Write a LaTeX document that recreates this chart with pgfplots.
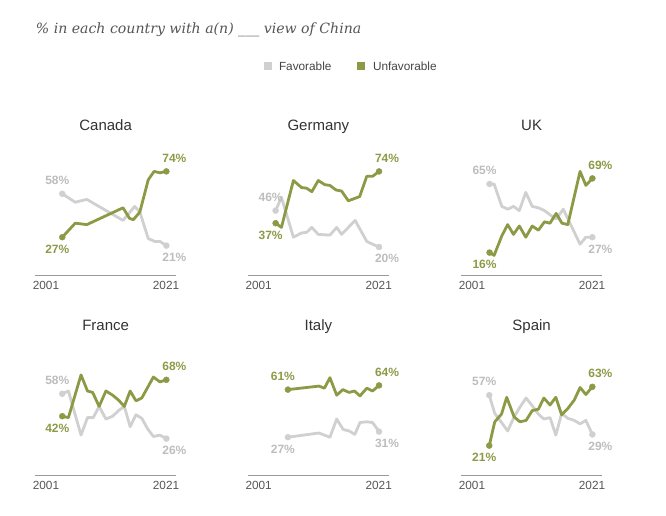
\documentclass[border=0pt]{standalone}
\usepackage{pgfplots}
\pgfplotsset{compat=1.18}
\usepackage{fontspec}
\setmainfont{Liberation Sans}
\newfontfamily\titlefont{DejaVu Serif}
\definecolor{unfav}{HTML}{8C9A46}
\definecolor{fav}{HTML}{D0D0D0}
\definecolor{favtext}{HTML}{BDBDBD}
\definecolor{axisgray}{HTML}{9A9A9A}
\definecolor{tickgray}{HTML}{555555}
\definecolor{paneltitle}{HTML}{333333}
\definecolor{maintitle}{HTML}{555555}
\definecolor{legtext}{HTML}{444444}
\pgfplotsset{
  panel/.style={
    scale only axis, width=141.3pt, height=140pt,
    xmin=2000.78, xmax=2022.64, ymin=0, ymax=100,
    axis x line=bottom, axis y line=none,
    x axis line style={-, draw=axisgray, line width=0.8pt},
    xtick={2002.48,2021.05}, xticklabels={2001,2021},
    ytick=\empty, major tick length=0pt, tick style={draw=none},
    xticklabel style={font=\fontsize{11.8}{12}\selectfont, text=tickgray, anchor=north, inner sep=0pt, yshift=-6.5pt},
    clip=false, anchor=south west,
    title style={font=\fontsize{15}{16}\selectfont, text=paneltitle, anchor=base, at={(0.5,1)}, yshift=-1pt, inner sep=0pt},
  },
  favline/.style={color=fav, line width=2.8pt, line join=round, line cap=round, mark=*, mark size=3pt, mark options={line width=0.4pt, fill=fav, draw=fav}},
  unfavline/.style={color=unfav, line width=2.8pt, line join=round, line cap=round, mark=*, mark size=3pt, mark options={line width=0.4pt, fill=unfav, draw=unfav}},
}
\tikzset{
  lab/.style={font=\fontsize{12}{13}\selectfont\bfseries, anchor=center, inner sep=0pt},
  up/.style={yshift=13.5pt}, dn/.style={yshift=-11.7pt},
  st/.style={xshift=-5pt}, en/.style={xshift=8pt},
  g/.style={text=favtext}, u/.style={text=unfav},
}
\begin{document}
\begin{tikzpicture}
\path[use as bounding box] (0,0) rectangle (666pt,-516pt);
% main title
\node[anchor=base west, inner sep=0pt, text=maintitle, font=\titlefont\itshape\fontsize{14.1}{15}\selectfont] at (35.7pt,-34pt) {\% in each country with a(n) \_\_\_ view of China};
% legend
\fill[fav] (264pt,-62.3pt) rectangle (272pt,-70.3pt);
\node[anchor=base west, inner sep=0pt, text=legtext, font=\fontsize{11.8}{12}\selectfont] at (278.8pt,-70.5pt) {Favorable};
\fill[unfav] (357.3pt,-62.3pt) rectangle (365.3pt,-70.3pt);
\node[anchor=base west, inner sep=0pt, text=legtext, font=\fontsize{11.8}{12}\selectfont] at (372.8pt,-70.5pt) {Unfavorable};

% Canada
\begin{axis}[panel, at={(35pt,-275pt)}, title={Canada}]
\addplot[favline, mark indices={1,10}] coordinates {(2005,58) (2007,52) (2008.8,54) (2014.4,39) (2016.2,49) (2017,45) (2018.3,26) (2019.3,24) (2020.1,24) (2021.1,21)};
\addplot[unfavline, mark indices={1,11}] coordinates {(2005,27) (2007,37) (2008.8,36) (2014.4,48) (2015.4,40.5) (2016,39.5) (2017,45) (2018.3,68) (2019.2,74) (2020.1,73) (2021.1,74)};
\node[lab,g,up,st] at (axis cs:2005,58) {58\%};
\node[lab,u,dn,st] at (axis cs:2005,27) {27\%};
\node[lab,u,up,en] at (axis cs:2021.1,74) {74\%};
\node[lab,g,dn,en] at (axis cs:2021.1,21) {21\%};
\end{axis}

% Germany
\begin{axis}[panel, at={(247.7pt,-275pt)}, title={Germany}]
\addplot[favline, mark indices={1,14}] coordinates {(2005.1,46) (2006,55.5) (2007.85,27) (2009.1,30) (2009.9,30.5) (2010.7,34) (2011.7,29) (2013.5,28.5) (2014.55,34) (2015.3,29) (2017.4,39) (2019.2,24) (2020.1,22) (2021.1,20)};
\addplot[unfavline, mark indices={1,16}] coordinates {(2005.1,37) (2006,34) (2007.85,67.5) (2009.1,62.5) (2009.9,62) (2010.7,59.5) (2011.7,67.5) (2012.7,64.5) (2013.5,64) (2014.45,60.7) (2015.3,60) (2016.35,53) (2018.1,56) (2019.2,70.5) (2020.1,70.5) (2021.1,74)};
\node[lab,g,up,st] at (axis cs:2005.1,46) {46\%};
\node[lab,u,dn,st] at (axis cs:2005.1,37) {37\%};
\node[lab,u,up,en] at (axis cs:2021.1,74) {74\%};
\node[lab,g,dn,en] at (axis cs:2021.1,20) {20\%};
\end{axis}

% UK
\begin{axis}[panel, at={(461pt,-275pt)}, title={UK}]
\addplot[favline, mark indices={1,16}] coordinates {(2005.2,65) (2005.9,65) (2007.1,49) (2008,47) (2008.9,49) (2009.8,46) (2010.8,59) (2011.8,49) (2012.75,48) (2013.7,46) (2014.55,43) (2015.5,40) (2016.6,47) (2019.2,22) (2020.1,27) (2021.1,27)};
\addplot[unfavline, mark indices={1,17}] coordinates {(2005.2,16) (2005.9,14) (2007.1,28) (2008,36) (2008.9,29) (2009.8,35) (2010.8,27) (2011.8,35) (2012.75,32) (2013.7,38) (2014.55,37) (2015.5,44) (2016.4,37) (2017.3,36) (2019.2,74) (2020.1,64) (2021.1,69)};
\node[lab,g,up,st] at (axis cs:2005.2,65) {65\%};
\node[lab,u,dn,st] at (axis cs:2005.2,16) {16\%};
\node[lab,u,up,en] at (axis cs:2021.1,69) {69\%};
\node[lab,g,dn,en] at (axis cs:2021.1,27) {27\%};
\end{axis}

% France
\begin{axis}[panel, at={(35pt,-475pt)}, title={France}]
\addplot[favline, mark indices={1,17}] coordinates {(2005,58) (2005.95,60) (2007.9,28.5) (2008.9,41) (2009.8,41) (2010.7,49) (2011.75,40) (2012.8,42) (2013.7,46) (2014.6,49) (2015.5,34.5) (2016.4,43) (2017.3,40.5) (2018.2,33) (2019.1,27.5) (2020.1,28.5) (2021.1,26)};
\addplot[unfavline, mark indices={1,17}] coordinates {(2005,42) (2005.95,41) (2007.9,71.5) (2008.9,60) (2009.7,59) (2010.7,49) (2011.75,60) (2012.8,57) (2013.7,53.5) (2014.6,49) (2015.5,60) (2016.4,53) (2017.3,55) (2018.2,62.5) (2019.1,70) (2020.1,66.5) (2021.1,68)};
\node[lab,g,up,st] at (axis cs:2005,58) {58\%};
\node[lab,u,dn,st] at (axis cs:2005,42) {42\%};
\node[lab,u,up,en] at (axis cs:2021.1,68) {68\%};
\node[lab,g,dn,en] at (axis cs:2021.1,26) {26\%};
\end{axis}

% Italy
\begin{axis}[panel, at={(247.7pt,-475pt)}, title={Italy}]
\addplot[favline, mark indices={1,12}] coordinates {(2007,27) (2011.8,30) (2012.65,28.5) (2013.5,27) (2014.55,40) (2015.55,32.5) (2016.45,31.5) (2017.35,29) (2018.15,37.5) (2019.2,38) (2020.1,37.5) (2021.1,31)};
\addplot[unfavline, mark indices={1,12}] coordinates {(2007,61) (2011.8,63.5) (2012.65,62) (2013.5,69.5) (2014.55,57) (2015.5,61) (2016.45,59) (2017.3,60) (2018.15,56.5) (2019.2,62) (2020.1,60) (2021.1,64)};
\node[lab,u,up,st] at (axis cs:2007,61) {61\%};
\node[lab,g,dn,st] at (axis cs:2007,27) {27\%};
\node[lab,u,up,en] at (axis cs:2021.1,64) {64\%};
\node[lab,g,dn,en] at (axis cs:2021.1,31) {31\%};
\end{axis}

% Spain
\begin{axis}[panel, at={(461pt,-475pt)}, title={Spain}]
\addplot[favline, mark indices={1,18}] coordinates {(2005.15,57) (2006,44) (2007.05,37.5) (2008,31.5) (2009,41.5) (2009.9,48.5) (2010.85,55) (2011.8,49.5) (2012.75,43.5) (2013.6,40) (2014.55,41) (2015.45,28.5) (2016.35,44) (2017.3,40.5) (2018.3,39) (2019.2,36.5) (2020.1,39) (2021.1,29)};
\addplot[unfavline, mark indices={1,18}] coordinates {(2005.15,21) (2006,38) (2007.05,43.5) (2007.85,55.5) (2009,41.5) (2009.9,38) (2010.85,39) (2011.8,46) (2012.75,47) (2013.6,55) (2014.55,50) (2015.45,55.5) (2016.35,43) (2017.3,47.5) (2018.3,53.5) (2019.2,62.5) (2020.1,57.5) (2021.1,63)};
\node[lab,g,up,st] at (axis cs:2005.15,57) {57\%};
\node[lab,u,dn,st] at (axis cs:2005.15,21) {21\%};
\node[lab,u,up,en] at (axis cs:2021.1,63) {63\%};
\node[lab,g,dn,en] at (axis cs:2021.1,29) {29\%};
\end{axis}
\end{tikzpicture}
\end{document}
